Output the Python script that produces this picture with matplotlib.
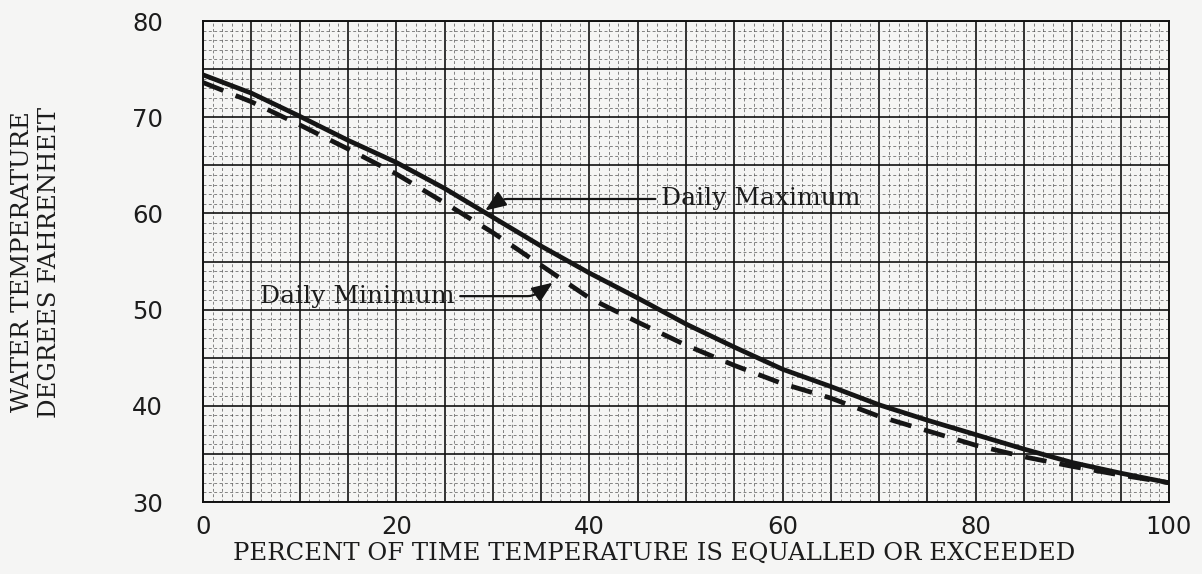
import numpy as np
import matplotlib
matplotlib.use("Agg")
import matplotlib.pyplot as plt

# percent of time (x) and water temperature, deg F (y)
pct = [0, 5, 10, 15, 20, 25, 30, 35, 40, 45, 50, 55, 60, 65, 70, 75, 80, 85, 90, 95, 100]
daily_max = [74.4, 72.5, 70.1, 67.6, 65.3, 62.6, 59.6, 56.6, 53.8, 51.2, 48.5, 46.1,
             43.8, 42.0, 40.1, 38.5, 37.0, 35.5, 34.1, 33.0, 32.0]
daily_min = [73.6, 71.6, 69.2, 66.7, 64.1, 61.1, 58.0, 54.6, 51.2, 48.7, 46.3, 44.2,
             42.3, 40.8, 38.9, 37.4, 35.9, 34.7, 33.7, 32.8, 32.0]

x_ticks = [0, 20, 40, 60, 80, 100]
y_ticks = [30, 40, 50, 60, 70, 80]

bg = "#f5f5f4"
typewriter = "DejaVu Serif"

fig = plt.figure(figsize=(12.02, 5.74), dpi=100, facecolor=bg)
ax = fig.add_axes([0.169, 0.1254, 0.8035, 0.838], facecolor=bg)

ax.set_xlim(0, 100)
ax.set_ylim(30, 80)

# graph paper: heavy lines every 5, light dashed lines every 1
ax.set_xticks(np.arange(0, 101, 5))
ax.set_xticklabels([str(v) if v in x_ticks else "" for v in range(0, 101, 5)])
ax.set_yticks(np.arange(30, 81, 5))
ax.set_yticklabels([str(v) if v in y_ticks else "" for v in range(30, 81, 5)])
ax.set_xticks(np.arange(0, 101, 1), minor=True)
ax.set_yticks(np.arange(30, 81, 1), minor=True)
ax.grid(which="major", color="#111111", lw=1.2)
ax.grid(which="minor", color="#444444", lw=0.7, linestyle=(0, (3, 2.5)), alpha=0.65)
ax.set_axisbelow(True)

ax.tick_params(which="both", length=0)
ax.tick_params(axis="x", pad=9, labelsize=17.5)
ax.tick_params(axis="y", pad=29, labelsize=17.5)
for lab in ax.get_xticklabels() + ax.get_yticklabels():
    lab.set_fontfamily("DejaVu Sans")
    lab.set_color("#1c1c1c")

for sp in ax.spines.values():
    sp.set_color("#111111")
    sp.set_linewidth(1.4)

ax.plot(pct, daily_max, color="#151515", lw=3.4, solid_capstyle="round")
ax.plot(pct, daily_min, color="#151515", lw=3.4, dashes=[4.6, 2.8])

arrow = dict(arrowstyle="-|>,head_length=0.7,head_width=0.28", color="#151515", lw=1.6,
             shrinkA=2, shrinkB=0)
ax.annotate("Daily Maximum", xy=(29.2, 60.3), xytext=(47.4, 61.5),
            ha="left", va="center", fontsize=18, family=typewriter, color="#1c1c1c",
            arrowprops=dict(arrow, connectionstyle="angle,angleA=0,angleB=35,rad=6"))
ax.annotate("Daily Minimum", xy=(36.2, 52.8), xytext=(5.9, 51.4),
            ha="left", va="center", fontsize=18, family=typewriter, color="#1c1c1c",
            arrowprops=dict(arrow, connectionstyle="angle,angleA=0,angleB=35,rad=6"))

fig.text(654 / 1202, 1 - 553 / 574, "PERCENT OF TIME TEMPERATURE IS EQUALLED OR EXCEEDED",
         ha="center", va="center", fontsize=17.5, family=typewriter, color="#1c1c1c")
fig.text(36 / 1202, 1 - 262 / 574, "WATER TEMPERATURE\nDEGREES FAHRENHEIT",
         ha="center", va="center", rotation=90, fontsize=17.5, family=typewriter,
         color="#1c1c1c", linespacing=1.25)

fig.savefig("out.png", dpi=100, facecolor=bg)
